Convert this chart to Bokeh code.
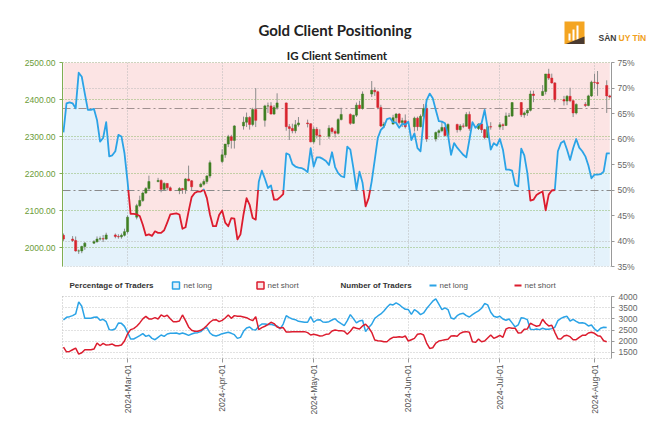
import numpy as np
import pandas as pd
from math import pi
from bokeh.plotting import figure
from bokeh.layouts import column
from bokeh.models import (Range1d, LinearAxis, FixedTicker, NumeralTickFormatter,
                          PrintfTickFormatter, DatetimeTickFormatter, ColumnDataSource, Title)
from bokeh.core.properties import value
from bokeh.embed import file_html
from bokeh.resources import INLINE

# ---------------- data ----------------
candle_start, candle_end = "2024-02-09", "2024-08-06"
market_holidays = ["2024-03-29"]

opens = [2034,2024,2020,1992,1992,2004,2013,2017,2024,2025,2024,2035,2031,2030,2034,
         2044,2083,2114,2128,2148,2160,2179,2182,2158,2174,2162,2155,2160,2157,2186,2181,2165,2172,2179,2194,
         2233,2251,2280,2300,2290,2329,2339,2352,2333,2373,2344,2383,2383,2361,2379,2391,2327,2322,2316,2332,2337,2335,
         2286,2320,2304,2301,2323,2314,2309,2346,2360,2336,2358,2385,2376,2415,2425,2421,2379,2329,2334,2351,2361,2338,2343,
         2327,2350,2327,2355,2376,2294,2311,2316,2325,2303,2333,2319,2329,2328,2360,2322,2334,2319,2298,2327,
         2326,2332,2330,2356,2356,2392,2359,2364,2371,2415,2411,2422,2469,2458,2445,2400,2396,2409,2397,2364,2387,2384,2410,
         2447,2446,2438,2410]
highs = [2039,2032,2031,1996,2006,2016,2021,2031,2031,2035,2041,2039,2037,2039,2052,
         2088,2119,2141,2152,2164,2195,2189,2185,2177,2175,2166,2164,2162,2188,2222,2183,2176,2185,2196,2236,
         2266,2280,2305,2305,2331,2354,2365,2355,2378,2431,2386,2392,2393,2385,2417,2392,2334,2335,2345,2353,2346,2336,
         2327,2326,2320,2331,2326,2319,2350,2378,2363,2359,2392,2397,2422,2450,2433,2424,2386,2340,2359,2364,2364,2351,2360,
         2354,2354,2360,2388,2387,2314,2320,2342,2327,2336,2335,2334,2336,2366,2368,2336,2337,2321,2331,2339,
         2339,2336,2365,2364,2392,2393,2368,2375,2424,2424,2439,2469,2483,2470,2447,2410,2412,2432,2399,2390,2393,2413,2451,
         2470,2477,2452,2413]
lows = [2019,2016,1990,1984,1986,1995,2011,2014,2020,2016,2022,2026,2025,2025,2031,
        2039,2077,2110,2124,2146,2154,2177,2150,2156,2155,2153,2145,2146,2146,2180,2156,2163,2168,2173,2188,
        2228,2243,2272,2268,2268,2319,2326,2319,2328,2326,2327,2364,2360,2359,2373,2316,2291,2309,2309,2327,2325,2285,
        2281,2295,2277,2294,2308,2298,2306,2344,2332,2334,2353,2374,2373,2407,2410,2374,2326,2323,2333,2340,2333,2326,2322,
        2314,2316,2325,2353,2286,2287,2298,2312,2300,2300,2311,2314,2323,2327,2316,2318,2310,2293,2296,2319,
        2319,2318,2329,2353,2353,2353,2351,2356,2368,2393,2410,2414,2453,2443,2393,2384,2385,2393,2353,2360,2380,2382,2407,
        2429,2410,2364,2403]
closes = [2024,2020,1992,1992,2004,2013,2017,2024,2025,2024,2035,2031,2030,2034,2044,
          2083,2114,2128,2148,2160,2179,2182,2158,2174,2162,2155,2160,2157,2186,2181,2165,2172,2179,2194,2230,
          2251,2280,2300,2290,2329,2339,2352,2333,2373,2344,2383,2383,2361,2379,2391,2327,2322,2316,2332,2337,2335,2286,
          2320,2304,2301,2323,2314,2309,2346,2360,2336,2358,2385,2376,2415,2425,2421,2379,2329,2334,2351,2361,2338,2343,2327,
          2350,2327,2355,2376,2294,2311,2316,2325,2303,2333,2319,2329,2328,2360,2322,2334,2319,2298,2327,2326,
          2332,2330,2356,2356,2392,2359,2364,2371,2415,2411,2422,2469,2458,2445,2400,2396,2409,2397,2364,2387,2384,2410,2447,
          2446,2443,2410,2407]

sentiment_start = "2024-02-09"
pct_feb = [61.3,67.0,67.2,67.0,66.0,73.0,72.2,68.9,65.7,65.7,65.9,63.7,59.5,60.2,63.3,56.6,56.8,57.6,60.8,60.5,57.2]
pct_mar = [51.7,45.3,45.3,45.2,44.9,43.2,41.1,41.3,41.0,41.9,41.6,41.6,42.1,43.6,45.2,45.3,45.4,45.2,42.4,42.7,
           45.8,48.6,49.4,49.7,49.7,50.1,48.4,45.2,42.9,42.9,45.1]
pct_apr = [46.0,43.6,42.9,44.5,44.4,40.3,41.3,45.2,48.4,47.1,44.5,44.2,51.6,53.8,52.2,50.4,50.9,48.1,48.1,48.6,
           49.2,57.2,56.9,55.1,54.6,54.4,54.3,54.0,53.5,58.2]
pct_may = [54.6,56.4,56.4,56.1,55.7,54.9,57.4,54.5,53.3,52.7,52.5,58.5,57.9,54.3,50.1,53.6,51.4,46.8,48.4,51.7,
           55.9,60.2,61.8,62.4,63.9,64.1,63.3,63.2,62.2,63.0,62.8]
pct_jun = [63.4,59.8,61.1,58.2,57.6,63.7,67.6,68.9,68.0,65.7,63.5,63.4,63.1,60.8,56.9,59.2,58.3,57.6,56.9,56.4,
           59.8,63.3,62.2,62.8,63.1,65.7,62.1,57.9,59.2,58.7]
pct_jul = [60.0,57.9,54.0,54.0,53.8,51.0,50.7,58.1,56.8,53.3,47.9,48.1,49.0,49.4,49.7,46.0,49.1,49.9,50.0,57.6,
           59.2,59.6,57.9,55.9,58.2,60.0,58.3,57.6,56.6,54.8,52.3]
pct_aug = [53.0,53.0,53.1,53.6,57.2,57.2]

long_feb = [2950,3070,3100,3145,3220,3760,3565,3025,3025,3025,3070,3085,2935,2980,2875,2520,2505,2560,2815,2800,2665]
long_mar = [2400,2100,2100,2175,2250,2340,2220,2265,2130,2070,2175,2280,2220,2325,2355,2355,2370,2325,2370,2325,
            2265,2325,2370,2385,2430,2560,2610,2370,2265,2235,2280]
long_apr = [2340,2370,2400,2355,2295,2130,2175,2445,2595,2640,2520,2505,2670,2770,2770,2745,2760,2715,2685,2550,
            2770,3145,3055,2995,2965,2890,2875,2850,2850,3100]
long_may = [2850,2950,2965,2860,2850,2875,2950,3010,2875,2785,2700,2920,3190,3010,2820,2910,2940,2430,2610,2760,
            3025,3130,3220,3355,3520,3655,3625,3715,3640,3520,3430]
long_jun = [3415,3205,3415,3325,3190,3265,3460,3625,3790,3895,3655,3415,3490,3415,3040,2995,3145,3220,3250,3145,
            3085,3190,3280,3355,3475,3685,3625,3295,3115,3070]
long_jul = [3115,2995,2940,2995,2820,2640,2730,3055,3025,2965,2535,2520,2550,2520,2580,2535,2535,2565,2625,2920,
            3025,3085,3115,2905,2980,2890,2815,2830,2790,2685,2730]
long_aug = [2550,2445,2580,2625,2610]

short_feb = [1740,1530,1545,1620,1695,1425,1485,1620,1620,1620,1650,1920,1800,1905,1830,1845,1875,1800,1800,1830,2010]
short_mar = [2325,2520,2565,2670,2820,3000,3115,3000,3000,3055,2995,3175,3100,3160,3010,2875,2875,2905,3175,2920,
             2640,2490,2445,2445,2490,2580,2700,2850,2950,2965,2875]
short_apr = [2935,3040,3175,3025,3145,3115,3115,3085,3055,2980,2920,3100,2520,2610,2670,2745,2850,2790,2640,2595,
             2610,2415,2415,2430,2430,2430,2430,2430,2385,2280]
short_may = [2310,2280,2235,2250,2310,2325,2460,2505,2475,2475,2445,2310,2445,2625,2580,2550,2685,2760,2610,2400,
             2055,2025,2010,1980,1980,2100,2175,2175,2205,2175,2235]
short_jun = [2010,2070,2130,2310,2340,2280,1920,1680,1710,1920,2010,2040,2070,2085,2235,2250,2220,2355,2415,2430,
             2400,1980,1950,2100,1980,2010,2145,2280,2130,2190]
short_jul = [2265,2175,2550,2610,2580,2580,2370,2385,2535,2550,2805,2730,2670,2700,2985,2805,2685,2715,2400,2115,
             2100,2235,2265,2205,2070,2070,2175,2265,2265,2370,2400]
short_aug = [2355,2250,2220,2025,1980]

month_ticks = ["2024-03-01", "2024-04-01", "2024-05-01", "2024-06-01", "2024-07-01", "2024-08-01"]
price_ticks = [2000, 2100, 2200, 2300, 2400, 2500]
pct_ticks = [35, 40, 45, 50, 55, 60, 65, 70, 75]
pct_grid = [40, 60, 70]
count_ticks = [1500, 2000, 2500, 3000, 3500, 4000]
ref_price_level = 2375

title_text = "Gold Client Positioning"
subtitle_text = "IG Client Sentiment"
legend_headers = ["Percentage of Traders", "Number of Traders"]
legend_names = ["net long", "net short", "net long", "net short"]
logo_words = ["SÀN", "UY TÍN"]

# ---------------- styling ----------------
FONT = "Liberation Sans"
TFONT = "Lato"
BLUE = "#2ba3e6"
RED = "#dc1c2e"
PINK = "#fce4e4"
LIGHTBLUE = "#e4f2fb"
GREEN_TXT = "#6b9b37"
GREEN_LINE = "#7fae52"
GRAY_TXT = "#666666"
W = 670

pct = pct_feb + pct_mar + pct_apr + pct_may + pct_jun + pct_jul + pct_aug
n_long = long_feb + long_mar + long_apr + long_may + long_jun + long_jul + long_aug
n_short = short_feb + short_mar + short_apr + short_may + short_jun + short_jul + short_aug

cdates = pd.bdate_range(candle_start, candle_end)
cdates = cdates[~cdates.isin(pd.to_datetime(market_holidays))]
assert len(cdates) == len(opens) == len(highs) == len(lows) == len(closes)

sdates = pd.date_range(sentiment_start, periods=len(pct), freq="D")
ndates = pd.date_range(sentiment_start, periods=len(n_long), freq="D")
assert len(n_long) == len(n_short)

def to_ms(idx):
    return (idx.values.astype("datetime64[ms]").astype("int64")).astype(float)

month_ms = list(to_ms(pd.to_datetime(month_ticks)))
DAY = 86400000.0

x_range = Range1d(pd.Timestamp("2024-02-08 16:30"), pd.Timestamp("2024-08-06 13:40"))

def blank_fig(h, y0, y1):
    f = figure(width=W, height=h, x_range=Range1d(0, W), y_range=Range1d(y0, y1),
               x_axis_location=None, y_axis_location=None, toolbar_location=None,
               output_backend="svg", min_border=0, min_border_left=0, min_border_right=0,
               min_border_top=0, min_border_bottom=0, frame_align=False)
    f.grid.visible = False
    f.outline_line_color = None
    f.background_fill_color = "white"
    f.border_fill_color = "white"
    return f

# ---------------- header (title + logo) ----------------
hdr = blank_fig(44, 44, 0)
hdr.text(x=[334.5], y=[29.5], text=[title_text], text_align="center", text_baseline="middle",
         text_font=value(TFONT), text_font_style="bold", text_font_size="15px", text_color="#222222")
hdr.quad(left=[564], right=[584], top=[21], bottom=[44], fill_color="#f4a522", line_color=None)
hdr.quad(left=[568, 572, 576], right=[570, 574, 578], top=[33, 29, 25], bottom=[40, 40, 40],
         fill_color="white", line_color=None)
hdr.patch(x=[564, 584, 584], y=[44, 36, 44], fill_color="#4a3a30", line_color=None)
hdr.text(x=[598], y=[37], text=[logo_words[0]], text_align="left", text_baseline="middle",
         text_font=value(FONT), text_font_style="bold", text_font_size="8.5px", text_color="#3c3c3c")
hdr.text(x=[618], y=[37], text=[logo_words[1]], text_align="left", text_baseline="middle",
         text_font=value(FONT), text_font_style="bold", text_font_size="8.5px", text_color="#f0a020")

# ---------------- main figure ----------------
p = figure(width=W, height=228, x_range=x_range, y_range=Range1d(1950, 2500), title=None,
           x_axis_type="datetime", x_axis_location=None, y_axis_location="left",
           toolbar_location=None, output_backend="svg",
           min_border_left=62, min_border_right=59, min_border_top=18, min_border_bottom=6)
p.add_layout(Title(text=subtitle_text, align="center", text_font=TFONT, text_font_style="bold",
                   text_font_size="11.5px", text_color="#222222", standoff=2, offset=-2), "above")
p.extra_y_ranges = {"pct": Range1d(35, 75)}
p.ygrid.visible = False
p.xgrid.visible = False
p.outline_line_color = "#bbbbbb"
p.outline_line_dash = "1 2"
p.background_fill_color = "white"
p.border_fill_color = "white"

ya = p.yaxis[0]
ya.ticker = FixedTicker(ticks=price_ticks)
ya.formatter = NumeralTickFormatter(format="0.00")
ya.axis_line_color = GREEN_LINE
ya.major_tick_line_color = GREEN_LINE
ya.minor_tick_line_color = None
ya.major_tick_out = 3
ya.major_tick_in = 0
ya.major_label_standoff = 4
ya.major_label_text_color = GREEN_TXT
ya.major_label_text_font = FONT
ya.major_label_text_font_size = "8.5px"

ra = LinearAxis(y_range_name="pct", ticker=FixedTicker(ticks=pct_ticks),
                formatter=PrintfTickFormatter(format="%d%%"))
ra.axis_line_color = "#999999"
ra.major_tick_line_color = "#999999"
ra.minor_tick_line_color = None
ra.major_tick_out = 3
ra.major_tick_in = 0
ra.major_label_standoff = 3
ra.major_label_text_color = GRAY_TXT
ra.major_label_text_font = FONT
ra.major_label_text_font_size = "8.5px"
p.add_layout(ra, "right")

p.varea(x=sdates, y1=pct, y2=75, y_range_name="pct", fill_color=PINK)
p.varea(x=sdates, y1=35, y2=pct, y_range_name="pct", fill_color=LIGHTBLUE)

p.vspan(x=month_ms, line_color="#b8b8b8", line_dash="1 2", line_width=1)
p.hspan(y=price_ticks, line_color="#8db866", line_dash="1 2", line_width=1)
p.hspan(y=pct_grid, y_range_name="pct", line_color="#b8b8b8", line_dash="1 2", line_width=1)
p.hspan(y=[50], y_range_name="pct", line_color="#8a8a8a", line_dash="8 3 2 3", line_width=1.2)
p.hspan(y=[ref_price_level], line_color="#a09090", line_dash="8 3 2 3", line_width=1)

o = np.array(opens, float); c = np.array(closes, float)
csrc = ColumnDataSource(dict(
    x=cdates, h=highs, l=lows,
    top=np.maximum(o, c), bottom=np.minimum(o, c),
    color=np.where(c >= o, "#3f7f22", "#d9232d")))
p.segment(x0="x", y0="l", x1="x", y1="h", source=csrc, line_color="#8c8c8c", line_width=1)
p.vbar(x="x", width=0.7 * DAY, top="top", bottom="bottom", source=csrc,
       fill_color="color", line_color="color", line_width=0.5)

def split_runs(xs, ys, thr=50.0):
    runs = {"b": ([], []), "r": ([], [])}
    cur_col, cx, cy = None, [], []
    pieces = []
    for i in range(len(ys) - 1):
        x0, y0, x1, y1 = xs[i], ys[i], xs[i + 1], ys[i + 1]
        if (y0 - thr) * (y1 - thr) < 0:
            xc = x0 + (thr - y0) / (y1 - y0) * (x1 - x0)
            pieces += [(x0, y0, xc, thr), (xc, thr, x1, y1)]
        else:
            pieces.append((x0, y0, x1, y1))
    for (x0, y0, x1, y1) in pieces:
        col = "b" if (y0 + y1) / 2 >= thr else "r"
        if col != cur_col:
            if cur_col is not None:
                runs[cur_col][0].append(cx); runs[cur_col][1].append(cy)
            cur_col, cx, cy = col, [x0], [y0]
        cx.append(x1); cy.append(y1)
    runs[cur_col][0].append(cx); runs[cur_col][1].append(cy)
    return runs

runs = split_runs(list(to_ms(sdates)), pct)
p.multi_line(xs=runs["b"][0], ys=runs["b"][1], y_range_name="pct", line_color=BLUE, line_width=1.8,
             line_join="round")
p.multi_line(xs=runs["r"][0], ys=runs["r"][1], y_range_name="pct", line_color=RED, line_width=1.8,
             line_join="round")

# ---------------- legend row ----------------
leg = blank_fig(19, 291, 272)
LY = 285
leg.text(x=[69, 340], y=[LY, LY], text=legend_headers, text_align="left", text_baseline="middle",
         text_font=value(FONT), text_font_style="bold", text_font_size="8px", text_color="#333333")
leg.text(x=[183, 267, 439, 524], y=[LY] * 4, text=legend_names, text_align="left",
         text_baseline="middle", text_font=value(FONT), text_font_size="8px", text_color="#555555")
leg.quad(left=[172, 256.5], right=[179, 263.5], top=[281.5, 281.5], bottom=[288.5, 288.5],
         fill_color=[LIGHTBLUE, PINK], line_color=[BLUE, RED], line_width=1.5)
leg.segment(x0=[429, 514], y0=[LY, LY], x1=[436, 521], y1=[LY, LY], line_color=[BLUE, RED],
            line_width=2)

# ---------------- bottom figure ----------------
p2 = figure(width=W, height=131, x_range=x_range, y_range=Range1d(1230, 4000),
            x_axis_type="datetime", y_axis_location="right",
            toolbar_location=None, output_backend="svg",
            min_border_left=62, min_border_right=59, min_border_top=5, min_border_bottom=64)
p2.outline_line_color = "#bbbbbb"
p2.outline_line_dash = "1 2"
p2.background_fill_color = "white"
p2.border_fill_color = "white"
p2.xgrid.ticker = FixedTicker(ticks=month_ms)
p2.ygrid.ticker = FixedTicker(ticks=count_ticks)
for g in (p2.xgrid[0], p2.ygrid[0]):
    g.grid_line_color = "#c4c4c4"
    g.grid_line_dash = "1 2"

xa = p2.xaxis[0]
xa.ticker = FixedTicker(ticks=month_ms)
fmt = "%Y-%b-%d"
xa.formatter = DatetimeTickFormatter(days=fmt, months=fmt, years=fmt, hours=fmt, minutes=fmt)
xa.major_label_orientation = pi / 2
xa.axis_line_color = None
xa.major_tick_line_color = "#999999"
xa.minor_tick_line_color = None
xa.major_tick_out = 4
xa.major_tick_in = 0
xa.major_label_standoff = 2
xa.major_label_text_color = "#555555"
xa.major_label_text_font = FONT
xa.major_label_text_font_size = "8.5px"

ya2 = p2.yaxis[0]
ya2.ticker = FixedTicker(ticks=count_ticks)
ya2.axis_line_color = "#999999"
ya2.major_tick_line_color = "#999999"
ya2.minor_tick_line_color = None
ya2.major_tick_out = 3
ya2.major_tick_in = 0
ya2.major_label_standoff = 4
ya2.major_label_text_color = GRAY_TXT
ya2.major_label_text_font = FONT
ya2.major_label_text_font_size = "8.5px"

p2.line(x=ndates, y=n_long, line_color=BLUE, line_width=1.5)
p2.line(x=ndates, y=n_short, line_color=RED, line_width=1.5)

layout = column(hdr, p, leg, p2, spacing=0)
open("out.html", "w").write(file_html(layout, INLINE))
